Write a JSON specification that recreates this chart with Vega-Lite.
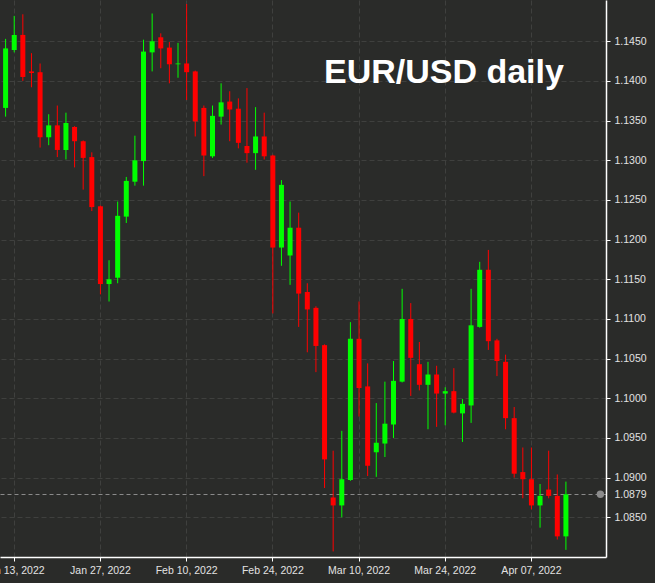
{
  "$schema": "https://vega.github.io/schema/vega-lite/v6.json",
  "width": 606,
  "height": 557,
  "autosize": "none",
  "padding": {"left": 0, "top": 0, "right": 49, "bottom": 26},
  "background": "#2a2b29",
  "config": {
    "view": {"stroke": null},
    "font": "Liberation Sans",
    "axis": {
      "labelFont": "Liberation Sans",
      "labelFontSize": 10.5,
      "labelColor": "#e2e2e2",
      "domainColor": "#ffffff",
      "tickColor": "#ffffff",
      "tickSize": 4,
      "gridColor": "#3f403e",
      "gridDash": [5, 3],
      "title": null
    }
  },
  "data": {
    "values": [
      {"date": "2022-01-12", "open": 1.1366, "high": 1.1453, "low": 1.1355, "close": 1.1441},
      {"date": "2022-01-13", "open": 1.1439, "high": 1.1482, "low": 1.1436, "close": 1.1458},
      {"date": "2022-01-14", "open": 1.1458, "high": 1.1484, "low": 1.1400, "close": 1.1405},
      {"date": "2022-01-17", "open": 1.1412, "high": 1.1435, "low": 1.1392, "close": 1.1410},
      {"date": "2022-01-18", "open": 1.1411, "high": 1.1422, "low": 1.1316, "close": 1.1329},
      {"date": "2022-01-19", "open": 1.1329, "high": 1.1358, "low": 1.1319, "close": 1.1344},
      {"date": "2022-01-20", "open": 1.1344, "high": 1.1369, "low": 1.1304, "close": 1.1313},
      {"date": "2022-01-21", "open": 1.1313, "high": 1.1360, "low": 1.1301, "close": 1.1347},
      {"date": "2022-01-24", "open": 1.1342, "high": 1.1343, "low": 1.1291, "close": 1.1324},
      {"date": "2022-01-25", "open": 1.1324, "high": 1.1325, "low": 1.1263, "close": 1.1303},
      {"date": "2022-01-26", "open": 1.1304, "high": 1.1310, "low": 1.1236, "close": 1.1241},
      {"date": "2022-01-27", "open": 1.1242, "high": 1.1243, "low": 1.1131, "close": 1.1144},
      {"date": "2022-01-28", "open": 1.1144, "high": 1.1174, "low": 1.1122, "close": 1.1150},
      {"date": "2022-01-31", "open": 1.1152, "high": 1.1248, "low": 1.1145, "close": 1.1230},
      {"date": "2022-02-01", "open": 1.1229, "high": 1.1279, "low": 1.1221, "close": 1.1274},
      {"date": "2022-02-02", "open": 1.1273, "high": 1.1331, "low": 1.1268, "close": 1.1300},
      {"date": "2022-02-03", "open": 1.1299, "high": 1.1452, "low": 1.1268, "close": 1.1437},
      {"date": "2022-02-04", "open": 1.1436, "high": 1.1485, "low": 1.1412, "close": 1.1450},
      {"date": "2022-02-07", "open": 1.1455, "high": 1.1460, "low": 1.1416, "close": 1.1441},
      {"date": "2022-02-08", "open": 1.1442, "high": 1.1449, "low": 1.1397, "close": 1.1421},
      {"date": "2022-02-09", "open": 1.1421, "high": 1.1448, "low": 1.1404, "close": 1.1422},
      {"date": "2022-02-10", "open": 1.1422, "high": 1.1497, "low": 1.1376, "close": 1.1411},
      {"date": "2022-02-11", "open": 1.1412, "high": 1.1413, "low": 1.1330, "close": 1.1349},
      {"date": "2022-02-14", "open": 1.1366, "high": 1.1369, "low": 1.1280, "close": 1.1306},
      {"date": "2022-02-15", "open": 1.1305, "high": 1.1369, "low": 1.1303, "close": 1.1356},
      {"date": "2022-02-16", "open": 1.1355, "high": 1.1397, "low": 1.1345, "close": 1.1373},
      {"date": "2022-02-17", "open": 1.1374, "high": 1.1387, "low": 1.1324, "close": 1.1364},
      {"date": "2022-02-18", "open": 1.1365, "high": 1.1378, "low": 1.1315, "close": 1.1322},
      {"date": "2022-02-21", "open": 1.1318, "high": 1.1391, "low": 1.1297, "close": 1.1309},
      {"date": "2022-02-22", "open": 1.1309, "high": 1.1367, "low": 1.1288, "close": 1.1330},
      {"date": "2022-02-23", "open": 1.1330, "high": 1.1360, "low": 1.1301, "close": 1.1305},
      {"date": "2022-02-24", "open": 1.1306, "high": 1.1307, "low": 1.1107, "close": 1.1190},
      {"date": "2022-02-25", "open": 1.1190, "high": 1.1275, "low": 1.1167, "close": 1.1269},
      {"date": "2022-02-28", "open": 1.1180, "high": 1.1248, "low": 1.1143, "close": 1.1215},
      {"date": "2022-03-01", "open": 1.1215, "high": 1.1234, "low": 1.1090, "close": 1.1132},
      {"date": "2022-03-02", "open": 1.1134, "high": 1.1145, "low": 1.1058, "close": 1.1112},
      {"date": "2022-03-03", "open": 1.1114, "high": 1.1116, "low": 1.1033, "close": 1.1066},
      {"date": "2022-03-04", "open": 1.1067, "high": 1.1068, "low": 1.0887, "close": 1.0923},
      {"date": "2022-03-07", "open": 1.0875, "high": 1.0934, "low": 1.0807, "close": 1.0865},
      {"date": "2022-03-08", "open": 1.0865, "high": 1.0959, "low": 1.0850, "close": 1.0898},
      {"date": "2022-03-09", "open": 1.0897, "high": 1.1096, "low": 1.0896, "close": 1.1075},
      {"date": "2022-03-10", "open": 1.1075, "high": 1.1122, "low": 1.0977, "close": 1.1013},
      {"date": "2022-03-11", "open": 1.1015, "high": 1.1044, "low": 1.0902, "close": 1.0915},
      {"date": "2022-03-14", "open": 1.0932, "high": 1.0994, "low": 1.0901, "close": 1.0944},
      {"date": "2022-03-15", "open": 1.0943, "high": 1.1021, "low": 1.0926, "close": 1.0968},
      {"date": "2022-03-16", "open": 1.0967, "high": 1.1047, "low": 1.0950, "close": 1.1022},
      {"date": "2022-03-17", "open": 1.1021, "high": 1.1138, "low": 1.1020, "close": 1.1100},
      {"date": "2022-03-18", "open": 1.1100, "high": 1.1120, "low": 1.1003, "close": 1.1051},
      {"date": "2022-03-21", "open": 1.1043, "high": 1.1071, "low": 1.1010, "close": 1.1017},
      {"date": "2022-03-22", "open": 1.1017, "high": 1.1046, "low": 1.0961, "close": 1.1030},
      {"date": "2022-03-23", "open": 1.1030, "high": 1.1041, "low": 1.0964, "close": 1.1006},
      {"date": "2022-03-24", "open": 1.1006, "high": 1.1014, "low": 1.0966, "close": 1.1009},
      {"date": "2022-03-25", "open": 1.1009, "high": 1.1038, "low": 1.0981, "close": 1.0982},
      {"date": "2022-03-28", "open": 1.0981, "high": 1.0999, "low": 1.0945, "close": 1.0993},
      {"date": "2022-03-29", "open": 1.0991, "high": 1.1138, "low": 1.0969, "close": 1.1092},
      {"date": "2022-03-30", "open": 1.1090, "high": 1.1172, "low": 1.1089, "close": 1.1162},
      {"date": "2022-03-31", "open": 1.1162, "high": 1.1187, "low": 1.1061, "close": 1.1072},
      {"date": "2022-04-01", "open": 1.1073, "high": 1.1075, "low": 1.1028, "close": 1.1047},
      {"date": "2022-04-04", "open": 1.1046, "high": 1.1055, "low": 1.0961, "close": 1.0975},
      {"date": "2022-04-05", "open": 1.0975, "high": 1.0989, "low": 1.0900, "close": 1.0905},
      {"date": "2022-04-06", "open": 1.0907, "high": 1.0938, "low": 1.0874, "close": 1.0898},
      {"date": "2022-04-07", "open": 1.0898, "high": 1.0938, "low": 1.0860, "close": 1.0865},
      {"date": "2022-04-08", "open": 1.0865, "high": 1.0892, "low": 1.0837, "close": 1.0877},
      {"date": "2022-04-11", "open": 1.0885, "high": 1.0934, "low": 1.0874, "close": 1.0877},
      {"date": "2022-04-12", "open": 1.0877, "high": 1.0904, "low": 1.0822, "close": 1.0826},
      {"date": "2022-04-13", "open": 1.0826, "high": 1.0895, "low": 1.0809, "close": 1.0879}
    ]
  },
  "encoding": {
    "x": {
      "field": "date",
      "type": "ordinal",
      "scale": {
        "domain": ["2022-01-12", "2022-01-13", "2022-01-14", "2022-01-17", "2022-01-18", "2022-01-19", "2022-01-20", "2022-01-21", "2022-01-24", "2022-01-25", "2022-01-26", "2022-01-27", "2022-01-28", "2022-01-31", "2022-02-01", "2022-02-02", "2022-02-03", "2022-02-04", "2022-02-07", "2022-02-08", "2022-02-09", "2022-02-10", "2022-02-11", "2022-02-14", "2022-02-15", "2022-02-16", "2022-02-17", "2022-02-18", "2022-02-21", "2022-02-22", "2022-02-23", "2022-02-24", "2022-02-25", "2022-02-28", "2022-03-01", "2022-03-02", "2022-03-03", "2022-03-04", "2022-03-07", "2022-03-08", "2022-03-09", "2022-03-10", "2022-03-11", "2022-03-14", "2022-03-15", "2022-03-16", "2022-03-17", "2022-03-18", "2022-03-21", "2022-03-22", "2022-03-23", "2022-03-24", "2022-03-25", "2022-03-28", "2022-03-29", "2022-03-30", "2022-03-31", "2022-04-01", "2022-04-04", "2022-04-05", "2022-04-06", "2022-04-07", "2022-04-08", "2022-04-11", "2022-04-12", "2022-04-13", "2022-04-14", "2022-04-15", "2022-04-18", "2022-04-19"],
        "paddingInner": 0,
        "paddingOuter": 0.15
      },
      "axis": {
        "orient": "bottom",
        "values": ["2022-01-13", "2022-01-27", "2022-02-10", "2022-02-24", "2022-03-10", "2022-03-24", "2022-04-07"],
        "labelExpr": "utcFormat(toDate(datum.value), '%b %d, %Y')",
        "labelAngle": 0,
        "labelPadding": 4,
        "grid": true,
        "domainWidth": 1.5
      }
    },
    "y": {
      "type": "quantitative",
      "scale": {"domain": [1.08, 1.1502], "zero": false, "nice": false},
      "axis": {
        "orient": "right",
        "values": [1.085, 1.0879, 1.09, 1.095, 1.1, 1.105, 1.11, 1.115, 1.12, 1.125, 1.13, 1.135, 1.14, 1.145],
        "format": ".4f",
        "labelOverlap": false,
        "labelPadding": 4,
        "grid": true,
        "domainWidth": 1.5,
        "tickColor": {"condition": {"test": "abs(datum.value - 1.0879) < 0.00001", "value": "transparent"}, "value": "#ffffff"},
        "gridColor": {"condition": {"test": "abs(datum.value - 1.0879) < 0.00001", "value": "#8a8a8a"}, "value": "#3f403e"},
        "gridDash": {"condition": {"test": "abs(datum.value - 1.0879) < 0.00001", "value": [4, 3]}, "value": [5, 3]}
      }
    }
  },
  "layer": [
    {
      "mark": {"type": "rule", "strokeWidth": 1},
      "encoding": {
        "y": {"field": "low", "type": "quantitative"},
        "y2": {"field": "high"},
        "color": {"condition": {"test": "datum.close >= datum.open", "value": "#00ff00"}, "value": "#ff0000"}
      }
    },
    {
      "mark": {"type": "bar", "width": 5},
      "encoding": {
        "y": {"field": "open", "type": "quantitative"},
        "y2": {"field": "close"},
        "color": {"condition": {"test": "datum.close >= datum.open", "value": "#00ff00"}, "value": "#ff0000"}
      }
    },
    {
      "data": {"values": [{"last": 1.0879, "slot": "2022-04-19"}]},
      "mark": {"type": "point", "filled": true, "size": 55, "opacity": 1, "clip": false},
      "encoding": {
        "x": {"field": "slot", "type": "ordinal"},
        "xOffset": {"value": 4.3},
        "y": {"field": "last", "type": "quantitative"},
        "color": {"value": "#8c8c8c"}
      }
    },
    {
      "data": {"values": [{"label": "EUR/USD daily", "slot": "2022-04-13", "level": 1.1398}]},
      "mark": {"type": "text", "align": "right", "baseline": "alphabetic", "fontSize": 34, "fontWeight": "bold", "font": "Liberation Sans", "dx": -2, "color": "#ffffff"},
      "encoding": {
        "x": {"field": "slot", "type": "ordinal"},
        "y": {"field": "level", "type": "quantitative"},
        "text": {"field": "label"}
      }
    }
  ]
}
